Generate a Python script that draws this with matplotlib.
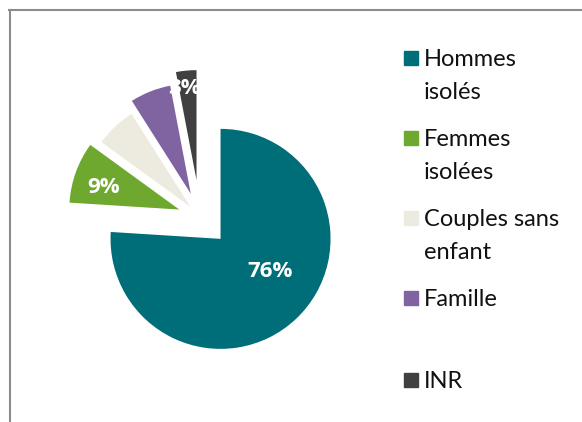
import matplotlib as mpl
mpl.use('Agg')
import matplotlib.pyplot as plt
from matplotlib.lines import Line2D
from matplotlib.patches import Rectangle
import numpy as np

# data
categories = ["Hommes\nisolés", "Femmes\nisolées", "Couples sans\nenfant", "Famille", "INR"]
shares = [76, 9, 6, 6, 3]
labels_shown = ["76%", "9%", "", "", "3%"]
colors = ["#006E78", "#6EA82F", "#EDEBE0", "#8064A2", "#404040"]

W, H = 582, 422
fig = plt.figure(figsize=(W / 100, H / 100), dpi=100)
ax = fig.add_axes([0, 0, 1, 1])

plt.rcParams['font.family'] = ['Lato', 'DejaVu Sans']

radius = 110
center = (200, H - 217)
explode = [30, 22, 14, 25, 37]

wedges, _ = ax.pie(shares, colors=colors, startangle=90, counterclock=False,
                   radius=radius, center=center, explode=explode,
                   wedgeprops=dict(linewidth=0))

# percentage labels: (angle offset from mid, distance as fraction of radius)
lab_pos = [(14, 0.54), (4, 0.72), (0, 0.6), (0, 0.6), (2, 0.84)]
for w, txt, (da, fr) in zip(wedges, labels_shown, lab_pos):
    if not txt:
        continue
    mid = np.deg2rad((w.theta1 + w.theta2) / 2 + da)
    cx, cy = w.center
    ax.text(cx + fr * radius * np.cos(mid), cy + fr * radius * np.sin(mid), txt,
            color='white', fontsize=16, fontweight='bold',
            ha='center', va='center', family=['Open Sans', 'DejaVu Sans'])

ax.set_xlim(0, W)
ax.set_ylim(0, H)
ax.set_aspect('equal')
ax.axis('off')

# legend, drawn by hand so the square sits on the first line
ly = [58, 138, 218, 298, 380]
for y, lab, col in zip(ly, categories, colors):
    fig.patches.append(Rectangle((404 / W, 1 - (y + 7) / H), 14 / W, 14 / H,
                                 transform=fig.transFigure, color=col))
    fig.text(424 / W, 1 - (y - 9) / H, lab, fontsize=17, va='top', ha='left',
             linespacing=1.68, color='#111111')

# chart frame
fig.add_artist(Line2D([9 / W, 1], [1 - 10 / H, 1 - 10 / H], color='#8c8c8c', lw=1.5))
fig.add_artist(Line2D([10 / W, 10 / W], [0, 1 - 10 / H], color='#8c8c8c', lw=1.5))

plt.savefig("out.png", dpi=100)
